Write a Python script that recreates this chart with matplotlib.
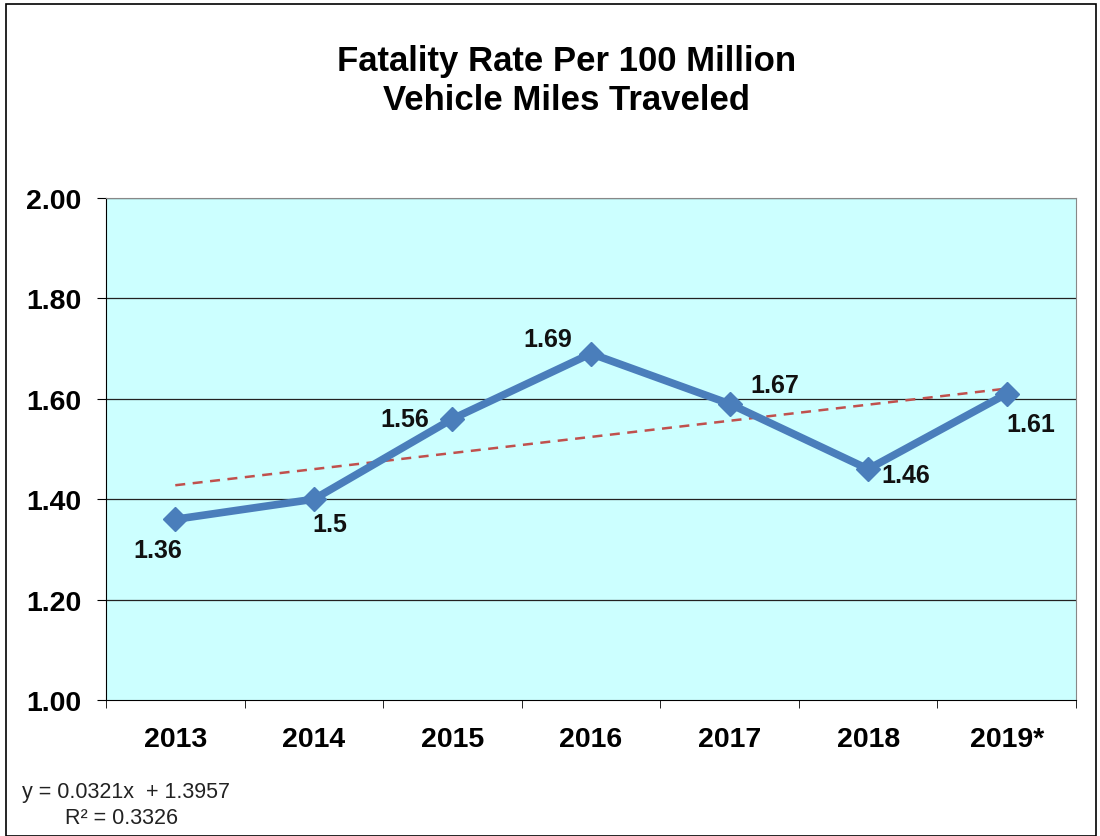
import matplotlib
matplotlib.use("Agg")
import matplotlib.pyplot as plt
from matplotlib.patches import Rectangle
import numpy as np

years = ["2013", "2014", "2015", "2016", "2017", "2018", "2019*"]
rates = [1.36, 1.40, 1.56, 1.69, 1.59, 1.46, 1.61]
labels = ["1.36", "1.5", "1.56", "1.69", "1.67", "1.46", "1.61"]
slope, intercept = 0.0321, 1.3957
yticks = [1.00, 1.20, 1.40, 1.60, 1.80, 2.00]

plt.rcParams['font.family'] = ['Liberation Sans', 'DejaVu Sans']

fig = plt.figure(figsize=(11, 8.37), dpi=100)
fig.patches.append(Rectangle((6/1100, 0), 1090/1100, 832/837, transform=fig.transFigure,
                             fill=False, edgecolor='black', linewidth=1.2))

ax = fig.add_axes([106/1100, 1 - 701/837, 970/1100, 502/837])
ax.set_facecolor('#CCFFFF')
x = np.arange(len(years))
ax.set_xlim(-0.5, len(years) - 0.5)
ax.set_ylim(1.0, 2.0)
ax.set_yticks(yticks)
ax.set_yticklabels([f"{v:.2f}" for v in yticks], fontsize=20.5, fontweight='bold')
for v in yticks[1:]:
    ax.axhline(v, color='#222222', linewidth=0.9, zorder=1)

ax.set_xticks(x)
ax.set_xticklabels(years, fontsize=20.5, fontweight='bold')
ax.tick_params(axis='x', length=0, pad=19)
ax.set_xticks(np.arange(-0.5, len(years) + 0.5, 1), minor=True)
ax.tick_params(axis='x', which='minor', length=6, direction='out', color='black')
ax.tick_params(axis='y', length=6.5, direction='out', color='black', pad=11)
for s in ['left', 'bottom']:
    ax.spines[s].set_color('black')
for s in ['top', 'right']:
    ax.spines[s].set_color('#888888')

trend = [slope * (i + 1) + intercept for i in x]
ax.plot(x, trend, linestyle=(0, (4, 3)), color='#C0504D', linewidth=1.8, zorder=2)
ax.plot(x, rates, color='#4A7EBB', linewidth=5.5, marker='D', markersize=12,
        markerfacecolor='#4A7EBB', markeredgecolor='#4A7EBB', zorder=3)

offsets = [(-18, -31), (16, -25), (-48, 0), (-43, 15), (45, 19), (38, -6), (24, -30)]
for xi, yi, lab, off in zip(x, rates, labels, offsets):
    ax.annotate(lab, (xi, yi), xytext=(off[0] * 0.72, off[1] * 0.72), textcoords='offset points',
                ha='center', va='center', fontsize=18, fontweight='bold', color='#111111', zorder=4)

fig.text(0.515, 1 - 61/837, "Fatality Rate Per 100 Million", ha='center', va='center',
         fontsize=25, fontweight='bold')
fig.text(0.515, 1 - 101/837, "Vehicle Miles Traveled", ha='center', va='center',
         fontsize=25, fontweight='bold')

fig.text(22/1100, 1 - 793/837, f"y = {slope}x  + {intercept}", ha='left', va='center',
         fontsize=15.5, color='#222222')
fig.text(65/1100, 1 - 819/837, "R² = 0.3326", ha='left', va='center', fontsize=15.5,
         color='#222222')

fig.savefig("out.png", dpi=100)
